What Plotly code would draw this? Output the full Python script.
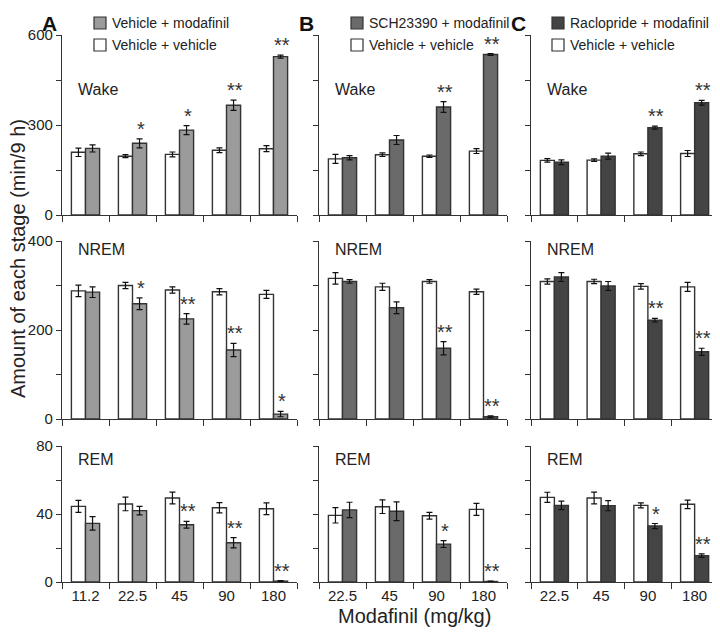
import plotly.graph_objects as go
from plotly.subplots import make_subplots

# page body adds an 8px offset; the figure is sized to the remaining viewport
OFF = 8
W, H = 720 - OFF, 635 - OFF

# ---------------- data ----------------
doses_A = ["11.2", "22.5", "45", "90", "180"]
doses_BC = ["22.5", "45", "90", "180"]

# Panel A: Vehicle + vehicle vs Vehicle + modafinil
A_wake_veh = [209, 196, 202, 216, 221]
A_wake_veh_err = [14, 5, 8, 8, 10]
A_wake_drug = [222, 239, 283, 366, 528]
A_wake_drug_err = [12, 15, 15, 17, 5]
A_nrem_veh = [288, 300, 290, 286, 280]
A_nrem_veh_err = [13, 7, 7, 7, 9]
A_nrem_drug = [285, 259, 225, 155, 11]
A_nrem_drug_err = [12, 13, 12, 15, 6]
A_rem_veh = [44.5, 45.9, 49.4, 43.7, 43.1]
A_rem_veh_err = [3.5, 4, 3.5, 3, 3.5]
A_rem_drug = [34.5, 42, 33.7, 23.1, 0.5]
A_rem_drug_err = [4, 2.5, 2, 3, 0.3]

# Panel B: Vehicle + vehicle vs SCH23390 + modafinil
B_wake_veh = [187, 201, 196, 213]
B_wake_veh_err = [15, 6, 4, 8]
B_wake_drug = [191, 250, 360, 535]
B_wake_drug_err = [7, 15, 18, 3]
B_nrem_veh = [316, 297, 309, 286]
B_nrem_veh_err = [13, 8, 4, 6]
B_nrem_drug = [309, 250, 159, 5]
B_nrem_drug_err = [4, 13, 15, 2]
B_rem_veh = [39.2, 44.3, 39.0, 42.7]
B_rem_veh_err = [4.5, 4, 2, 3.5]
B_rem_drug = [42.4, 41.6, 22.3, 0.3]
B_rem_drug_err = [4.5, 5.5, 2, 0.2]

# Panel C: Vehicle + vehicle vs Raclopride + modafinil
C_wake_veh = [182, 183, 204, 205]
C_wake_veh_err = [6, 4, 6, 10]
C_wake_drug = [176, 196, 291, 374]
C_wake_drug_err = [8, 10, 5, 8]
C_nrem_veh = [309, 309, 298, 297]
C_nrem_veh_err = [6, 5, 6, 10]
C_nrem_drug = [319, 299, 222, 151]
C_nrem_drug_err = [10, 10, 4, 8]
C_rem_veh = [49.8, 49.4, 45.1, 45.7]
C_rem_veh_err = [3, 3.5, 1.5, 2.5]
C_rem_drug = [45.1, 44.9, 32.9, 15.5]
C_rem_drug_err = [2.5, 3, 1.5, 1]

# significance marks on the drug bars
A_wake_sig = ["", "*", "*", "**", "**"]
A_nrem_sig = ["", "*", "**", "**", "*"]
A_rem_sig = ["", "", "**", "**", "**"]
B_wake_sig = ["", "", "**", "**"]
B_nrem_sig = ["", "", "**", "**"]
B_rem_sig = ["", "", "*", "**"]
C_wake_sig = ["", "", "**", "**"]
C_nrem_sig = ["", "", "**", "**"]
C_rem_sig = ["", "", "*", "**"]

panel_letters = ["A", "B", "C"]
drug_labels = ["Vehicle + modafinil", "SCH23390 + modafinil", "Raclopride + modafinil"]
vehicle_label = "Vehicle + vehicle"
stage_names = ["Wake", "NREM", "REM"]
y_max = [600, 400, 80]
y_tick_vals = [[0, 150, 300, 450, 600], [0, 100, 200, 300, 400], [0, 20, 40, 60, 80]]
y_tick_text = [["0", "", "300", "", "600"], ["0", "", "200", "", "400"], ["0", "", "40", "", "80"]]
x_title = "Modafinil (mg/kg)"
y_title = "Amount of each stage (min/9 h)"

# ---------------- styling ----------------
FONT = "Liberation Sans, Arial, sans-serif"
TXT = "#222222"
LINE = "#333333"
drug_colors = ["#9b9b9b", "#6a6a6a", "#444444"]

# pixel layout (screen coordinates)
col_px = [(62, 297), (319, 507), (531, 718)]
row_px = [(35, 215), (241, 419), (446, 582)]
stage_label_y = [89, 249, 460]


def px_x(x):
    return (x - OFF) / W


def px_y(y):
    return 1 - (y - OFF) / H


panels = [
    (doses_A,
     [(A_wake_veh, A_wake_veh_err, A_wake_drug, A_wake_drug_err, A_wake_sig),
      (A_nrem_veh, A_nrem_veh_err, A_nrem_drug, A_nrem_drug_err, A_nrem_sig),
      (A_rem_veh, A_rem_veh_err, A_rem_drug, A_rem_drug_err, A_rem_sig)]),
    (doses_BC,
     [(B_wake_veh, B_wake_veh_err, B_wake_drug, B_wake_drug_err, B_wake_sig),
      (B_nrem_veh, B_nrem_veh_err, B_nrem_drug, B_nrem_drug_err, B_nrem_sig),
      (B_rem_veh, B_rem_veh_err, B_rem_drug, B_rem_drug_err, B_rem_sig)]),
    (doses_BC,
     [(C_wake_veh, C_wake_veh_err, C_wake_drug, C_wake_drug_err, C_wake_sig),
      (C_nrem_veh, C_nrem_veh_err, C_nrem_drug, C_nrem_drug_err, C_nrem_sig),
      (C_rem_veh, C_rem_veh_err, C_rem_drug, C_rem_drug_err, C_rem_sig)]),
]

fig = make_subplots(rows=3, cols=3)
annotations = []
shapes = []

for c, (cats, rows) in enumerate(panels):
    for r, (veh, veh_e, drug, drug_e, sig) in enumerate(rows):
        idx = r * 3 + c + 1
        err_style = dict(type="data", color="#111111", thickness=1.2, width=3)
        fig.add_trace(go.Bar(
            x=cats, y=veh, name=vehicle_label, showlegend=False,
            marker=dict(color="white", line=dict(color=LINE, width=1.4)),
            error_y=dict(array=veh_e, **err_style)), row=r + 1, col=c + 1)
        fig.add_trace(go.Bar(
            x=cats, y=drug, name=drug_labels[c], showlegend=False,
            marker=dict(color=drug_colors[c], line=dict(color=LINE, width=1.4)),
            error_y=dict(array=drug_e, **err_style)), row=r + 1, col=c + 1)
        xa = "xaxis" if idx == 1 else f"xaxis{idx}"
        ya = "yaxis" if idx == 1 else f"yaxis{idx}"
        fig.layout[xa].update(
            domain=[px_x(col_px[c][0]), px_x(col_px[c][1])],
            type="category", categoryorder="array", categoryarray=cats,
            range=[-0.5, len(cats) - 0.5], autorange=False, automargin=False,
            showline=True, linecolor=LINE, linewidth=1.3,
            ticks="outside", tickson="boundaries", ticklen=6, tickcolor=LINE,
            tickwidth=1.3, showgrid=False, zeroline=False,
            showticklabels=(r == 2), tickangle=0,
            tickfont=dict(family=FONT, size=15, color=TXT))
        fig.layout[ya].update(
            domain=[px_y(row_px[r][1]), px_y(row_px[r][0])],
            range=[0, y_max[r]], autorange=False, automargin=False,
            showline=True, linecolor=LINE, linewidth=1.3,
            ticks="outside", ticklen=5, tickcolor=LINE, tickwidth=1.3,
            tickvals=y_tick_vals[r], ticktext=y_tick_text[r] if c == 0 else [""] * 5,
            showgrid=False, zeroline=False,
            tickfont=dict(family=FONT, size=15, color=TXT))
        xref = "x" if idx == 1 else f"x{idx}"
        yref = "y" if idx == 1 else f"y{idx}"
        # stage label
        annotations.append(dict(
            x=px_x(col_px[c][0] + 14), y=px_y(stage_label_y[r]),
            xref="paper", yref="paper", xanchor="left", yanchor="middle",
            text=stage_names[r], showarrow=False,
            font=dict(family=FONT, size=16, color=TXT)))
        # significance stars (x given as category index)
        for k, s in enumerate(sig):
            if s:
                annotations.append(dict(
                    x=k, y=drug[k] + drug_e[k], xref=xref, yref=yref,
                    xshift=8, yshift=-3, xanchor="center", yanchor="bottom",
                    text=s, showarrow=False,
                    font=dict(family=FONT, size=20, color="#333333")))

    # panel letter
    annotations.append(dict(
        x=px_x(col_px[c][0] - 22), y=px_y(23), xref="paper", yref="paper",
        xanchor="left", yanchor="middle", text=f"<b>{panel_letters[c]}</b>",
        showarrow=False, font=dict(family=FONT, size=21, color="#111111")))
    # legend swatches + text
    lx = col_px[c][0] + 32 if c < 2 else col_px[c][0] + 21
    for j, (lab, col) in enumerate([(drug_labels[c], drug_colors[c]), (vehicle_label, "white")]):
        cy = 23 + j * 22
        shapes.append(dict(type="rect", xref="paper", yref="paper",
                           x0=px_x(lx), x1=px_x(lx + 12),
                           y0=px_y(cy + 6), y1=px_y(cy - 6),
                           fillcolor=col, line=dict(color=LINE, width=1.2)))
        annotations.append(dict(
            x=px_x(lx + 16), y=px_y(cy), xref="paper", yref="paper",
            xanchor="left", yanchor="middle", text=lab, showarrow=False,
            font=dict(family=FONT, size=14, color=TXT)))

# axis titles
annotations.append(dict(
    x=px_x(414), y=px_y(616), xref="paper", yref="paper", xanchor="center",
    yanchor="middle", text=x_title, showarrow=False,
    font=dict(family=FONT, size=20, color=TXT)))
annotations.append(dict(
    x=px_x(18), y=px_y(259), xref="paper", yref="paper", xanchor="center",
    yanchor="middle", text=y_title, showarrow=False, textangle=-90,
    font=dict(family=FONT, size=20, color=TXT)))

fig.update_layout(
    template="none",
    width=W, height=H, margin=dict(l=0, r=0, t=0, b=0, autoexpand=False),
    paper_bgcolor="white", plot_bgcolor="white",
    barmode="group", bargap=0.4, bargroupgap=0.0,
    showlegend=False, annotations=annotations, shapes=shapes,
    font=dict(family=FONT, color=TXT))

fig.write_html("out.html")
